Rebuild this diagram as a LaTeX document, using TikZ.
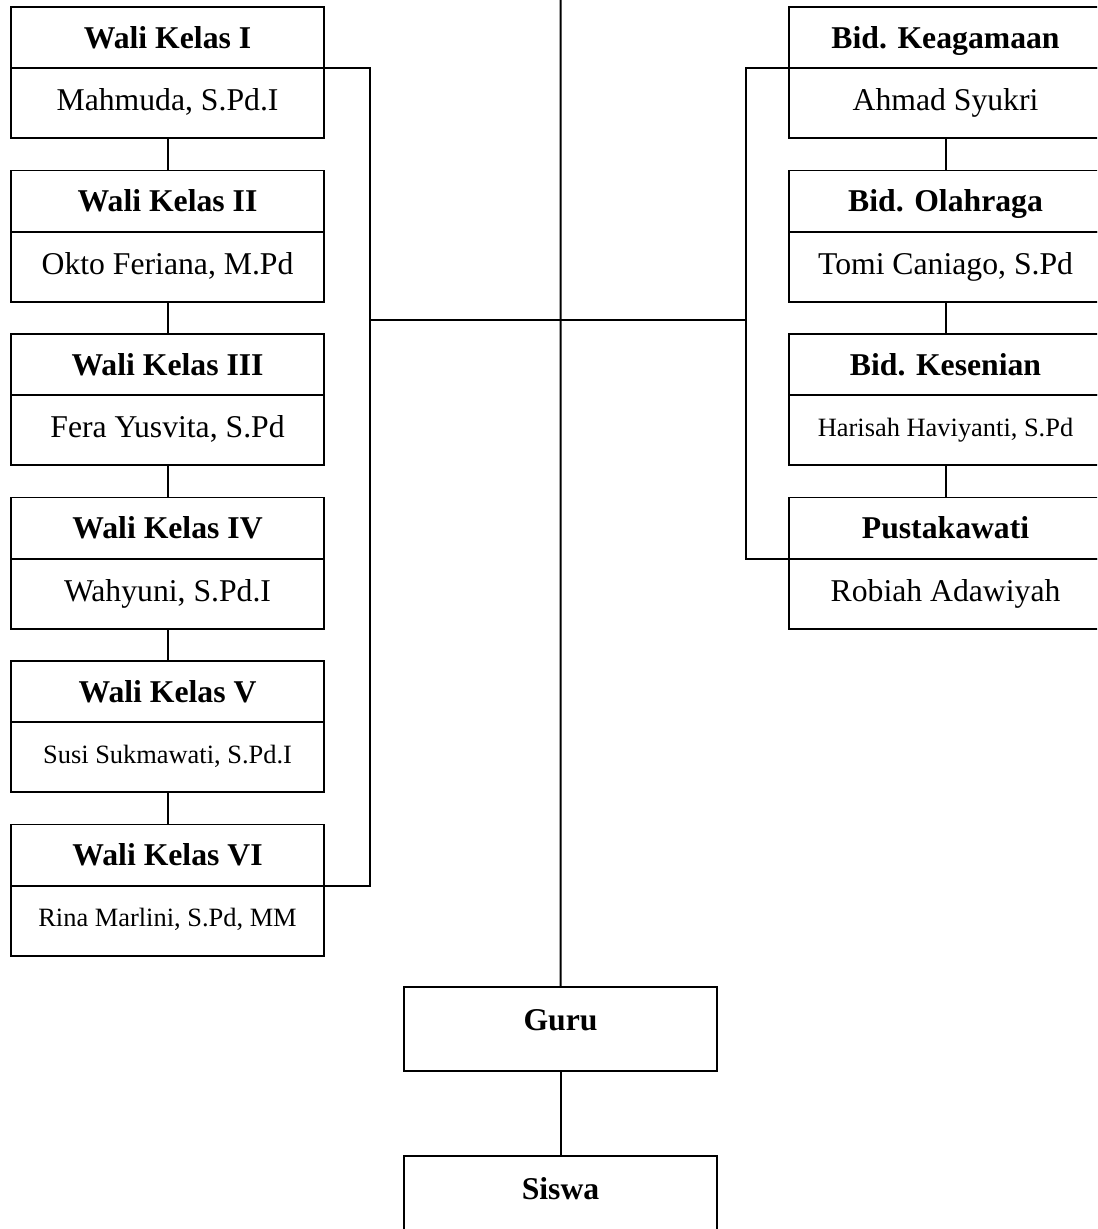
\documentclass[tikz,border=0pt]{standalone}
\usepackage{fontspec}
\setmainfont{Liberation Serif}
\usepackage{tikz}
\usetikzlibrary{positioning}

\tikzset{
  ttl/.style={draw, line width=0.75pt, outer sep=0pt, inner sep=0pt,
    minimum width=118.5pt, minimum height=23.1pt, text height=9pt, text depth=1pt,
    font=\fontsize{12}{14}\selectfont\bfseries},
  nm/.style={draw, line width=0.75pt, outer sep=0pt, inner sep=0pt,
    minimum width=118.5pt, minimum height=26.5pt, text height=8.2pt, text depth=2.4pt,
    font=\fontsize{12}{14}\selectfont},
  nmsmall/.style={nm, text height=6.8pt, text depth=2pt, font=\fontsize{10}{12}\selectfont},
  bigbox/.style={ttl, minimum height=31.8pt, text height=8pt, text depth=6.8pt},
  link/.style={line width=0.75pt}
}

\begin{document}
\begin{tikzpicture}[x=0.3785pt, y=-0.3785pt]
\clip (0,0) rectangle (1097,1229);

% Wali kelas (left column)
\foreach \idx/\rom/\who/\sty in {1/I/{Mahmuda, S.Pd.I}/nm, 2/II/{Okto Feriana, M.Pd}/nm,
    3/III/{Fera Yusvita, S.Pd}/nm, 4/IV/{Wahyuni, S.Pd.I}/nm,
    5/V/{Susi Sukmawati, S.Pd.I}/nmsmall, 6/VI/{Rina Marlini, S.Pd, MM}/nmsmall}{
  \node[ttl, anchor=north west] (wk\idx) at (11,{7+163.5*(\idx-1)}) {Wali Kelas \rom};
  \node[\sty, below=0pt of wk\idx] (wkn\idx) {\who};
}
\foreach \i [count=\j from 2] in {1,...,5}{
  \draw[link] (wkn\i.south) -- (wk\j.north);
}

% Bidang (right column)
\foreach \idx/\ttxt/\who/\sty in {1/Bid. Keagamaan/Ahmad Syukri/nm,
    2/Bid. Olahraga/{Tomi Caniago, S.Pd}/nm, 3/Bid. Kesenian/{Harisah Haviyanti, S.Pd}/nmsmall,
    4/Pustakawati/Robiah Adawiyah/nm}{
  \node[ttl, anchor=north west] (bd\idx) at (789,{7+163.5*(\idx-1)}) {\ttxt};
  \node[\sty, below=0pt of bd\idx] (bdn\idx) {\who};
}
\foreach \i [count=\j from 2] in {1,...,3}{
  \draw[link] (bdn\i.south) -- (bd\j.north);
}

% Guru and siswa
\node[bigbox, anchor=north west] (guru) at (404,987) {Guru};
\node[bigbox, below=32.2pt of guru] (siswa) {Siswa};

% Brackets and trunk
\coordinate (lb) at (370,320);
\coordinate (rb) at (746,320);
\coordinate (ctop) at (560.5,-5);
\draw[link] (wk1.south east) -| (lb) |- (wk6.south east);
\draw[link] (bd1.south west) -| (rb) |- (bd4.south west);
\draw[link] (lb) -- (rb);
\draw[link] (ctop) -- (guru.north);
\draw[link] (guru.south) -- (siswa.north);
\end{tikzpicture}
\end{document}
